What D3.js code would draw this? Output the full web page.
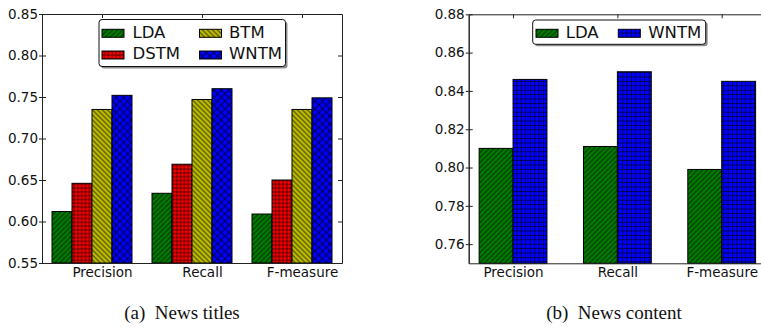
<!DOCTYPE html>
<html><head><meta charset="utf-8">
<script src="https://cdn.jsdelivr.net/npm/d3@7"></script>
<style>body{margin:0;background:#fff}svg{display:block}</style>
</head><body><svg id="c" width="761" height="327"></svg>
<script>
// ---- data ----
const categories = ["Precision", "Recall", "F-measure"];
const titlesSeries = ["LDA", "DSTM", "BTM", "WNTM"];
const titlesLDA  = [0.612, 0.634, 0.609];
const titlesDSTM = [0.646, 0.669, 0.650];
const titlesBTM  = [0.735, 0.747, 0.735];
const titlesWNTM = [0.752, 0.760, 0.749];
const contentSeries = ["LDA", "WNTM"];
const contentLDA  = [0.810, 0.811, 0.799];
const contentWNTM = [0.846, 0.850, 0.845];
const titlesYTicks  = [0.55, 0.60, 0.65, 0.70, 0.75, 0.80, 0.85];
const contentYTicks = [0.76, 0.78, 0.80, 0.82, 0.84, 0.86, 0.88];
const captions = ["(a)  News titles", "(b)  News content"];

const svg = d3.select("#c");
svg.append("rect").attr("width", 761).attr("height", 327).attr("fill", "#fff");
const defs = svg.append("defs");

// hatch patterns
function pattern(id, fill, type, period, sw) {
  const p = defs.append("pattern").attr("id", id).attr("patternUnits", "userSpaceOnUse");
  let s = period;
  if (type === "fwd" || type === "back" || type === "x") {
    s = period / Math.SQRT2;
    p.attr("patternTransform", `rotate(${type === "back" ? -45 : 45})`);
  }
  p.attr("width", s).attr("height", s);
  p.append("rect").attr("width", s).attr("height", s).attr("fill", fill);
  const st = (sel) => sel.attr("stroke", "#000").attr("stroke-width", sw);
  st(p.append("line").attr("x1", s / 2).attr("x2", s / 2).attr("y1", 0).attr("y2", s));
  if (type === "grid" || type === "x") {
    st(p.append("line").attr("x1", 0).attr("x2", s).attr("y1", s / 2).attr("y2", s / 2));
  }
  return `url(#${id})`;
}
const fillsTitles = [
  pattern("pLDA", "#008000", "fwd", 5, 0.7),
  pattern("pDSTM", "#ff0000", "grid", 3.8, 0.6),
  pattern("pBTM", "#bfbf00", "back", 5, 0.7),
  pattern("pWNTM", "#0000ff", "x", 7.5, 0.7)
];
const fillsContent = [
  pattern("qLDA", "#008000", "fwd", 5, 0.7),
  pattern("qWNTM", "#0000ff", "grid", 4.4, 0.6)
];

const FONT = "DejaVu Sans";

function drawChart(cfg) {
  const g = svg.append("g");
  const x = d3.scaleLinear().domain([0, 3]).range([cfg.left, cfg.left + cfg.w]);
  const y = d3.scaleLinear().domain(cfg.yDomain).range([cfg.bottom, cfg.top]);
  // bars
  cfg.series.forEach((vals, k) => {
    g.selectAll(null).data(vals).enter().append("rect")
      .attr("x", (d, i) => x(i + cfg.off + k * cfg.bw))
      .attr("width", x(cfg.bw) - x(0))
      .attr("y", d => y(d))
      .attr("height", d => y(cfg.yDomain[0]) - y(d))
      .attr("fill", cfg.fills[k])
      .attr("stroke", "#000").attr("stroke-width", 1);
  });
  const tickPos = categories.map((c, i) => i + cfg.tick);
  const style = (a) => {
    a.selectAll("path.domain").attr("stroke", "#222").attr("stroke-width", 1);
    a.selectAll(".tick line").attr("stroke", "#222");
    a.selectAll("text").attr("font-family", FONT).attr("font-size", 13.5).attr("fill", "#111");
  };
  const yl = g.append("g").attr("transform", `translate(${cfg.left},0)`)
    .call(d3.axisLeft(y).tickValues(cfg.yTicks).tickFormat(d3.format(".2f")).tickSize(3).tickSizeOuter(0).tickPadding(1));
  style(yl);
  const yli = g.append("g").attr("transform", `translate(${cfg.left},0)`)
    .call(d3.axisRight(y).tickValues(cfg.yTicks).tickFormat("").tickSize(4).tickSizeOuter(0));
  style(yli);
  const yr = g.append("g").attr("transform", `translate(${cfg.left + cfg.w},0)`)
    .call(d3.axisLeft(y).tickValues(cfg.yTicks).tickFormat("").tickSize(4).tickSizeOuter(0));
  style(yr);
  const xt = g.append("g").attr("transform", `translate(0,${cfg.top})`)
    .call(d3.axisBottom(x).tickValues(tickPos).tickFormat("").tickSize(4).tickSizeOuter(0));
  style(xt);
  const xb = g.append("g").attr("transform", `translate(0,${cfg.bottom})`)
    .call(d3.axisBottom(x).tickValues(tickPos).tickFormat((d, i) => categories[i]).tickSize(0).tickSizeOuter(0).tickPadding(4));
  style(xb);
  xb.selectAll(".tick line").remove();

  // legend
  const L = cfg.legend;
  const lg = g.append("g");
  lg.append("rect").attr("x", L.x + 2).attr("y", L.y + 2).attr("width", L.w).attr("height", L.h)
    .attr("rx", 3).attr("fill", "#000").attr("opacity", 0.45);
  lg.append("rect").attr("x", L.x).attr("y", L.y).attr("width", L.w).attr("height", L.h)
    .attr("rx", 3).attr("fill", "#fff").attr("stroke", "#111").attr("stroke-width", 1);
  L.items.forEach((it, k) => {
    lg.append("rect").attr("x", it.px).attr("y", it.py).attr("width", 22).attr("height", 8)
      .attr("fill", cfg.fills[k]).attr("stroke", "#000").attr("stroke-width", 1);
    lg.append("text").attr("x", it.tx).attr("y", it.py + 8.3).text(cfg.names[k])
      .attr("font-family", FONT).attr("font-size", 16.5).attr("fill", "#111");
  });
}

drawChart({
  left: 42, w: 300, top: 14, bottom: 263, yDomain: [0.55, 0.85], yTicks: titlesYTicks,
  series: [titlesLDA, titlesDSTM, titlesBTM, titlesWNTM], names: titlesSeries, fills: fillsTitles,
  off: 0.1, bw: 0.2, tick: 0.6,
  legend: { x: 99, y: 19.5, w: 186.5, h: 47, items: [
    { px: 102, py: 29.3, tx: 132.5 },
    { px: 102, py: 51, tx: 132.5 },
    { px: 199.5, py: 29.3, tx: 229 },
    { px: 199.5, py: 51, tx: 229 }
  ] }
});
drawChart({
  left: 468.7, w: 313, top: 14.3, bottom: 263.3, yDomain: [0.75, 0.88], yTicks: contentYTicks,
  series: [contentLDA, contentWNTM], names: contentSeries, fills: fillsContent,
  off: 0.1, bw: 0.325, tick: 0.425,
  legend: { x: 532.7, y: 20, w: 173, h: 24.3, items: [
    { px: 536, py: 29.3, tx: 565.7 },
    { px: 618.3, py: 29.3, tx: 648.3 }
  ] }
});

// captions
const capX = [182, 614];
svg.selectAll(null).data(captions).enter().append("text")
  .attr("x", (d, i) => capX[i]).attr("y", 319)
  .attr("text-anchor", "middle")
  .attr("font-family", "Liberation Serif").attr("font-size", 19).attr("fill", "#111")
  .attr("xml:space", "preserve").style("white-space", "pre")
  .text(d => d);
</script></body></html>
